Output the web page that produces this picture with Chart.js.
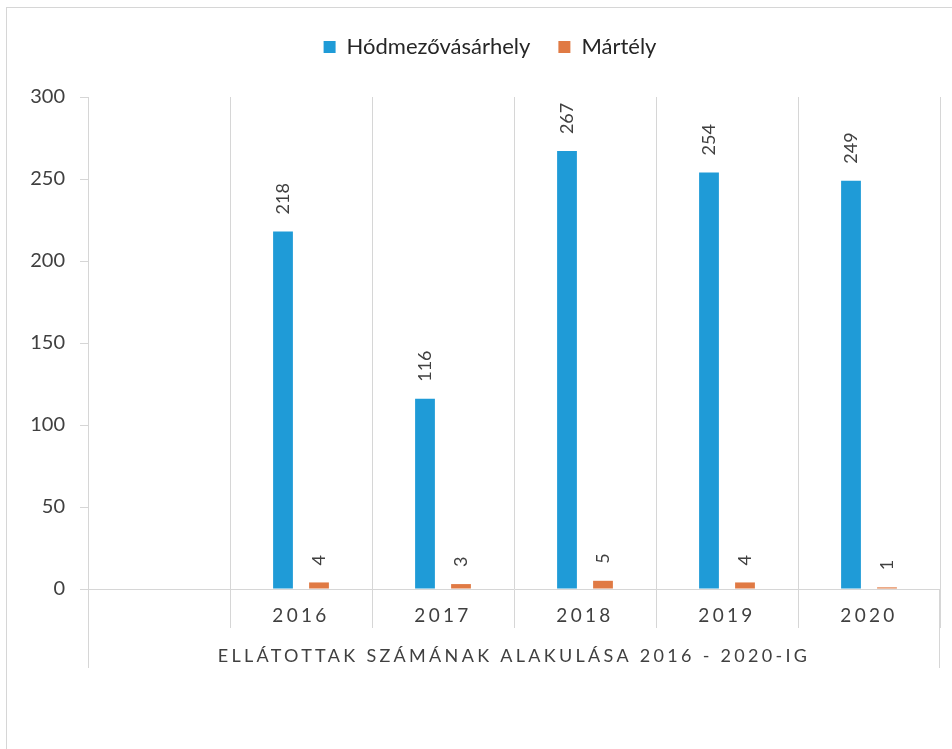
<!DOCTYPE html>
<html>
<head>
<meta charset="utf-8">
<script src="https://cdn.jsdelivr.net/npm/chart.js"></script>
<style>
  html, body { margin: 0; padding: 0; background: #fff; }
  #wrap { width: 952px; height: 749px; }
</style>
</head>
<body>
<div id="wrap"><canvas id="chart" width="952" height="749"></canvas></div>
<script>
// adatok
var years = ['', '2016', '2017', '2018', '2019', '2020'];
var hodmezo = [null, 218, 116, 267, 254, 249];
var martely = [null, 4, 3, 5, 4, 1];
var yTicks = [0, 50, 100, 150, 200, 250, 300];
var xTitle = 'ELLÁTOTTAK SZÁMÁNAK ALAKULÁSA 2016 - 2020-IG';

var textColor = '#404040';
var lineColor = '#d6d6d6';

// keret + a bal/jobb szélső hosszabb függőleges vonalak
var framePlugin = {
    id: 'frame',
    beforeDraw: function (chart) {
        var ctx = chart.ctx;
        var area = chart.chartArea;
        ctx.save();
        ctx.strokeStyle = lineColor;
        ctx.lineWidth = 1;
        ctx.beginPath();
        ctx.moveTo(6, 7.5); ctx.lineTo(chart.width, 7.5);
        ctx.moveTo(6.5, 7); ctx.lineTo(6.5, chart.height);
        ctx.moveTo(Math.round(area.left) + 0.5, area.bottom);
        ctx.lineTo(Math.round(area.left) + 0.5, area.bottom + 79);
        ctx.moveTo(Math.round(area.right) - 0.5, area.bottom);
        ctx.lineTo(Math.round(area.right) - 0.5, area.bottom + 79);
        ctx.stroke();
        ctx.restore();
    },
    beforeLayout: function (chart) {
        // az x tengely szövegei ritkított betűközzel
        var s = chart.scales.x;
        if (s && !s._spaced) {
            var orig = Object.getPrototypeOf(s).draw;
            s.draw = function (ca) {
                var c = this.ctx;
                c.save();
                c.letterSpacing = '3.3px';
                orig.call(this, ca);
                c.restore();
            };
            s._spaced = true;
        }
        // több hely a jelmagyarázat alatt, és kicsit jobbra tolva
        var lg = chart.legend;
        if (lg && !lg._patched) {
            var origFit = lg.fit;
            lg.fit = function () {
                origFit.call(this);
                this.height += 29;
            };
            var origDraw = lg.draw;
            lg.draw = function () {
                var c = this.ctx;
                c.save();
                c.translate(20, 0);
                origDraw.apply(this, arguments);
                c.restore();
            };
            lg._patched = true;
        }
    }
};

// függőleges értékcímkék az oszlopok felett
var labelPlugin = {
    id: 'barLabels',
    afterDatasetsDraw: function (chart) {
        var ctx = chart.ctx;
        ctx.save();
        ctx.fillStyle = textColor;
        ctx.font = '18px Lato';
        ctx.textAlign = 'left';
        ctx.textBaseline = 'middle';
        chart.data.datasets.forEach(function (ds, i) {
            var meta = chart.getDatasetMeta(i);
            meta.data.forEach(function (bar, j) {
                var v = ds.data[j];
                if (v === null || v === undefined) return;
                ctx.save();
                ctx.translate(bar.x, bar.y - 17);
                ctx.rotate(-Math.PI / 2);
                ctx.fillText(String(v), 0, 0);
                ctx.restore();
            });
        });
        ctx.restore();
    }
};

var ctx = document.getElementById('chart').getContext('2d');
var chart = new Chart(ctx, {
    type: 'bar',
    data: {
        labels: years,
        datasets: [{
            label: 'Hódmezővásárhely',
            data: hodmezo,
            backgroundColor: '#1f9bd7',
            categoryPercentage: 0.507,
            barPercentage: 0.55
        }, {
            label: 'Mártély',
            data: martely,
            backgroundColor: '#e07a44',
            categoryPercentage: 0.507,
            barPercentage: 0.55
        }]
    },
    options: {
        responsive: false,
        animation: false,
        layout: { padding: { top: 8, right: 12, bottom: 0, left: 0 } },
        plugins: {
            legend: {
                position: 'top',
                labels: {
                    color: '#262626',
                    font: { family: 'Lato', size: 22 },
                    boxWidth: 12,
                    boxHeight: 12,
                    padding: 28
                }
            },
            tooltip: { enabled: false }
        },
        scales: {
            x: {
                grid: {
                    display: true,
                    offset: true,
                    color: lineColor,
                    drawOnChartArea: true,
                    drawTicks: true,
                    tickLength: 39
                },
                border: { display: true, color: lineColor },
                ticks: {
                    color: textColor,
                    font: { family: 'Lato', size: 19 },
                    padding: -24,
                    maxRotation: 0
                },
                title: {
                    display: true,
                    text: xTitle,
                    color: textColor,
                    font: { family: 'Lato', size: 18 },
                    padding: { top: 0, bottom: 82 }
                },
                afterFit: function (scale) { scale.height = 160; }
            },
            y: {
                min: 0,
                max: 300,
                afterBuildTicks: function (scale) {
                    scale.ticks = yTicks.map(function (v) { return { value: v }; });
                },
                grid: {
                    drawOnChartArea: false,
                    drawTicks: true,
                    tickLength: 8,
                    color: lineColor
                },
                border: { display: true, color: lineColor },
                ticks: {
                    color: textColor,
                    font: { family: 'Lato', size: 20 },
                    padding: 15
                },
                afterFit: function (scale) { scale.width = 88; }
            }
        }
    },
    plugins: [framePlugin, labelPlugin]
});
</script>
</body>
</html>
